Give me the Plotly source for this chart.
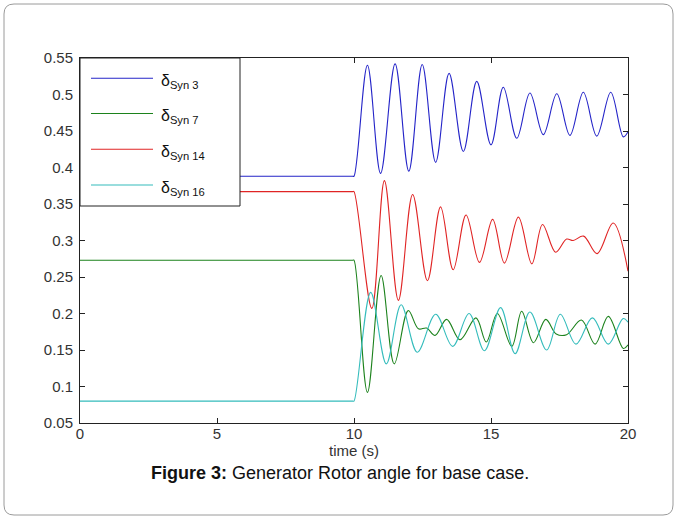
import plotly.graph_objects as go

# ---- data ----
t_syn3 = [0, 9.95, 10.0, 10.49, 10.97, 11.50, 12.00, 12.49, 12.98, 13.47, 13.99, 14.48,
          15.00, 15.45, 15.94, 16.42, 16.91, 17.40, 17.88, 18.37, 18.86, 19.37, 19.83, 20.0]
v_syn3 = [0.388, 0.388, 0.388, 0.540, 0.392, 0.542, 0.395, 0.541, 0.407, 0.529, 0.422, 0.518,
          0.431, 0.510, 0.440, 0.502, 0.445, 0.501, 0.444, 0.503, 0.443, 0.503, 0.442, 0.449]

t_syn7 = [0, 9.95, 10.0, 10.49, 10.99, 11.47, 11.98, 12.35, 12.65, 12.96, 13.38, 13.87,
          14.45, 14.83, 15.23, 15.76, 16.12, 16.55, 17.00, 17.38, 17.76, 18.30, 18.80,
          19.28, 19.83, 20.0]
v_syn7 = [0.273, 0.273, 0.273, 0.092, 0.252, 0.131, 0.204, 0.179, 0.180, 0.170, 0.192, 0.164,
          0.194, 0.161, 0.200, 0.155, 0.203, 0.160, 0.192, 0.172, 0.171, 0.191, 0.158,
          0.196, 0.152, 0.157]

t_syn14 = [0, 9.95, 10.0, 10.65, 11.11, 11.62, 12.14, 12.68, 13.16, 13.62, 14.09, 14.58,
           15.06, 15.49, 16.00, 16.49, 16.88, 17.36, 17.76, 18.00, 18.38, 18.87, 19.46, 20.0]
v_syn14 = [0.367, 0.367, 0.367, 0.207, 0.382, 0.218, 0.363, 0.245, 0.346, 0.260, 0.335, 0.270,
           0.329, 0.269, 0.332, 0.268, 0.322, 0.284, 0.302, 0.300, 0.306, 0.282, 0.324, 0.258]

t_syn16 = [0, 9.95, 10.0, 10.61, 11.18, 11.72, 12.31, 12.98, 13.60, 14.20, 14.76, 15.35,
           15.88, 16.42, 17.03, 17.53, 18.10, 18.70, 19.28, 19.82, 20.0]
v_syn16 = [0.080, 0.080, 0.080, 0.229, 0.131, 0.212, 0.147, 0.199, 0.155, 0.200, 0.149, 0.208,
           0.145, 0.202, 0.150, 0.199, 0.158, 0.194, 0.158, 0.193, 0.188]

series_names = ["δ<sub>Syn 3</sub>", "δ<sub>Syn 7</sub>", "δ<sub>Syn 14</sub>", "δ<sub>Syn 16</sub>"]
series_colors = ["#2424c8", "#1c821c", "#e02424", "#34bcbc"]

x_ticks = [0, 5, 10, 15, 20]
x_ticktext = ["0", "5", "10", "15", "20"]
y_ticks = [0.05, 0.10, 0.15, 0.20, 0.25, 0.30, 0.35, 0.40, 0.45, 0.50, 0.55]
y_ticktext = ["0.05", "0.1", "0.15", "0.2", "0.25", "0.3", "0.35", "0.4", "0.45", "0.5", "0.55"]

x_title = "time (s)"
caption = "<b>Figure 3:</b> Generator Rotor angle for base case."

# ---- figure ----
W, H = 678, 520
L, R, T, B = 80, 50, 58, 97
pw, ph = W - L - R, H - T - B


def px_x(px):
    return (px - L) / pw


def px_y(py):
    return (H - B - py) / ph


fig = go.Figure()
all_t = [t_syn3, t_syn7, t_syn14, t_syn16]
all_v = [v_syn3, v_syn7, v_syn14, v_syn16]
for t, v, name, col in zip(all_t, all_v, series_names, series_colors):
    fig.add_trace(go.Scatter(x=t, y=v, mode="lines", name=name,
                             line=dict(color=col, width=1.1, shape="spline", smoothing=1),
                             showlegend=False))

axis_common = dict(showgrid=False, zeroline=False, showline=True, linecolor="#222",
                   linewidth=1, mirror="ticks", ticks="inside", ticklen=5,
                   tickcolor="#222", tickfont=dict(size=15, color="#333"))

fig.update_xaxes(range=[0, 20], tickvals=x_ticks, ticktext=x_ticktext,
                 ticklabelstandoff=-3,
                 title=dict(text=x_title, font=dict(size=15, color="#333"), standoff=2),
                 **axis_common)
fig.update_yaxes(range=[0.05, 0.55], tickvals=y_ticks, ticktext=y_ticktext,
                 ticklabelstandoff=3, **axis_common)

shapes = []
annotations = []

# outer rounded frame
x0, x1 = px_x(4), px_x(673)
y0, y1 = px_y(515), px_y(4)
rx, ry = 10 / pw, 10 / ph
path = (f"M {x0+rx} {y1} L {x1-rx} {y1} Q {x1} {y1} {x1} {y1-ry} "
        f"L {x1} {y0+ry} Q {x1} {y0} {x1-rx} {y0} L {x0+rx} {y0} "
        f"Q {x0} {y0} {x0} {y0+ry} L {x0} {y1-ry} Q {x0} {y1} {x0+rx} {y1} Z")
shapes.append(dict(type="path", xref="paper", yref="paper", path=path,
                   line=dict(color="#9a9a9a", width=1), layer="below"))

# legend box
shapes.append(dict(type="rect", xref="paper", yref="paper",
                   x0=0, x1=px_x(240), y0=px_y(206), y1=1,
                   line=dict(color="#222", width=1), fillcolor="white", layer="above"))
leg_rows = [78.3, 113.5, 149.3, 185.0]
for py, name, col in zip(leg_rows, series_names, series_colors):
    shapes.append(dict(type="line", xref="paper", yref="paper",
                       x0=px_x(91), x1=px_x(153), y0=px_y(py), y1=px_y(py),
                       line=dict(color=col, width=1.1), layer="above"))
    annotations.append(dict(xref="paper", yref="paper", x=px_x(159), y=px_y(py + 3),
                            xanchor="left", yanchor="middle", showarrow=False,
                            text=name, font=dict(size=16, color="#111")))

annotations.append(dict(xref="paper", yref="paper", x=px_x(340), y=px_y(473),
                        xanchor="center", yanchor="middle", showarrow=False,
                        text=caption, font=dict(size=18, color="#111")))

fig.update_layout(width=W, height=H, margin=dict(l=L, r=R, t=T, b=B),
                  paper_bgcolor="white", plot_bgcolor="white",
                  font=dict(family="Liberation Sans, Arial, sans-serif"),
                  showlegend=False, shapes=shapes, annotations=annotations)

fig.write_html("out.html", config={"displayModeBar": False},
               post_script="document.body.style.margin='0px';document.body.style.overflow='hidden';")
